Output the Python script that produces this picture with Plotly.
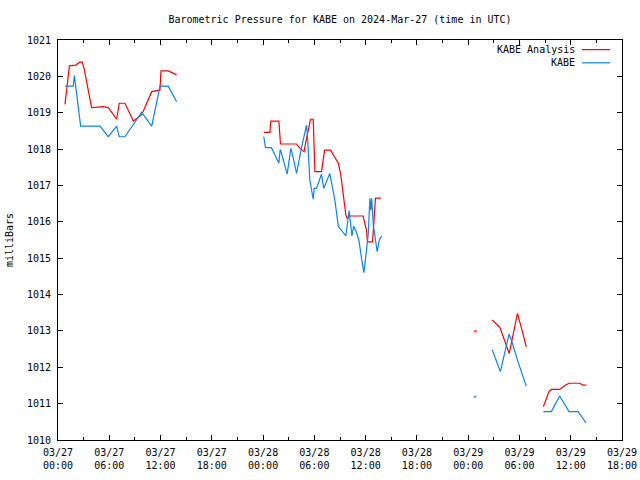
import plotly.graph_objects as go

# KABE Analysis (red)
ana_time = [
    "2024-03-27 00:49", "2024-03-27 01:20", "2024-03-27 02:04", "2024-03-27 02:34", "2024-03-27 02:51",
    "2024-03-27 03:05", "2024-03-27 03:56", "2024-03-27 05:18", "2024-03-27 05:53", "2024-03-27 06:52",
    "2024-03-27 07:10", "2024-03-27 07:50", "2024-03-27 08:49", "2024-03-27 09:47", "2024-03-27 10:58",
    "2024-03-27 11:56", "2024-03-27 12:03", "2024-03-27 12:54", "2024-03-27 13:53", "2024-03-27 18:00",
    "2024-03-28 00:05", "2024-03-28 00:48", "2024-03-28 00:54", "2024-03-28 01:51", "2024-03-28 02:02",
    "2024-03-28 03:54", "2024-03-28 04:18", "2024-03-28 04:48", "2024-03-28 04:58", "2024-03-28 05:24",
    "2024-03-28 05:33", "2024-03-28 05:52", "2024-03-28 06:04", "2024-03-28 06:50", "2024-03-28 07:06",
    "2024-03-28 07:12", "2024-03-28 07:54", "2024-03-28 08:24", "2024-03-28 08:48", "2024-03-28 09:04",
    "2024-03-28 09:18", "2024-03-28 09:27", "2024-03-28 09:41", "2024-03-28 09:50", "2024-03-28 10:04",
    "2024-03-28 11:42", "2024-03-28 12:06", "2024-03-28 12:13", "2024-03-28 12:48", "2024-03-28 12:59",
    "2024-03-28 13:09", "2024-03-28 13:47", "2024-03-28 18:00",
    "2024-03-29 00:51", "2024-03-29 01:30",
    "2024-03-29 02:48", "2024-03-29 03:42", "2024-03-29 03:58", "2024-03-29 04:33", "2024-03-29 04:48",
    "2024-03-29 05:22", "2024-03-29 05:46", "2024-03-29 06:18", "2024-03-29 06:48", "2024-03-29 07:30",
    "2024-03-29 08:48", "2024-03-29 09:28", "2024-03-29 09:44", "2024-03-29 10:42", "2024-03-29 11:24",
    "2024-03-29 11:48", "2024-03-29 13:03", "2024-03-29 13:26", "2024-03-29 13:48",
]
ana_pres = [
    1019.23, 1020.29, 1020.31, 1020.39, 1020.39,
    1020.18, 1019.14, 1019.17, 1019.14, 1018.82,
    1019.26, 1019.26, 1018.77, 1018.94, 1019.58,
    1019.62, 1020.15, 1020.15, 1020.04, None,
    1018.46, 1018.46, 1018.77, 1018.77, 1018.14,
    1018.14, 1018.02, 1017.93, 1018.16, 1018.66,
    1018.82, 1018.82, 1017.38, 1017.38, 1017.84,
    1017.97, 1017.97, 1017.79, 1017.61, 1017.33,
    1016.87, 1016.51, 1016.19, 1016.10, 1016.16,
    1016.16, 1015.77, 1015.45, 1015.45, 1016.05,
    1016.65, 1016.65, None,
    1012.99, None,
    1013.30, 1013.10, 1012.93, 1012.52, 1012.38,
    1013.02, 1013.48, 1013.02, 1012.56, None,
    1010.92, 1011.33, 1011.39, 1011.39, 1011.51,
    1011.56, 1011.56, 1011.51, 1011.51,
]

# KABE observations (blue)
obs_time = [
    "2024-03-27 00:49", "2024-03-27 01:47", "2024-03-27 01:55", "2024-03-27 02:18", "2024-03-27 02:39",
    "2024-03-27 04:55", "2024-03-27 05:53", "2024-03-27 06:52", "2024-03-27 07:10", "2024-03-27 07:50",
    "2024-03-27 09:47", "2024-03-27 10:58", "2024-03-27 11:56", "2024-03-27 12:54", "2024-03-27 13:53",
    "2024-03-27 18:00",
    "2024-03-28 00:05", "2024-03-28 00:17", "2024-03-28 00:59", "2024-03-28 01:51", "2024-03-28 02:00",
    "2024-03-28 02:06", "2024-03-28 02:49", "2024-03-28 03:15", "2024-03-28 03:27", "2024-03-28 03:55",
    "2024-03-28 04:30", "2024-03-28 05:05", "2024-03-28 05:12", "2024-03-28 05:28", "2024-03-28 05:52",
    "2024-03-28 05:59", "2024-03-28 06:15", "2024-03-28 06:50", "2024-03-28 07:06", "2024-03-28 07:48",
    "2024-03-28 08:24", "2024-03-28 08:48", "2024-03-28 09:41", "2024-03-28 09:50", "2024-03-28 10:04",
    "2024-03-28 10:24", "2024-03-28 10:36", "2024-03-28 10:51", "2024-03-28 11:12", "2024-03-28 11:42",
    "2024-03-28 11:48", "2024-03-28 12:18", "2024-03-28 12:30", "2024-03-28 12:36", "2024-03-28 12:42",
    "2024-03-28 12:54", "2024-03-28 13:21", "2024-03-28 13:36", "2024-03-28 13:52", "2024-03-28 18:00",
    "2024-03-29 00:48", "2024-03-29 01:30",
    "2024-03-29 02:48", "2024-03-29 03:46", "2024-03-29 04:47", "2024-03-29 05:00", "2024-03-29 05:50",
    "2024-03-29 06:48", "2024-03-29 07:30",
    "2024-03-29 08:48", "2024-03-29 09:44", "2024-03-29 10:42", "2024-03-29 11:48", "2024-03-29 12:52",
    "2024-03-29 13:48",
]
obs_pres = [
    1019.73, 1019.73, 1020.02, 1019.30, 1018.63,
    1018.63, 1018.34, 1018.63, 1018.34, 1018.34,
    1019.01, 1018.63, 1019.73, 1019.73, 1019.30,
    None,
    1018.34, 1018.04, 1018.04, 1017.61, 1017.99,
    1017.93, 1017.31, 1018.02, 1017.84, 1017.33,
    1018.05, 1018.66, 1018.34, 1017.15, 1016.62,
    1016.92, 1016.92, 1017.31, 1016.92, 1017.33,
    1016.60, 1015.88, 1015.61, 1015.96, 1016.31,
    1015.61, 1015.88, 1015.76, 1015.50, 1014.72,
    1014.60, 1015.64, 1016.65, 1016.32, 1016.65,
    1015.91, 1015.18, 1015.50, 1015.61, None,
    1011.19, None,
    1012.49, 1011.88, 1012.91, 1012.79, 1012.15,
    1011.48, None,
    1010.78, 1010.78, 1011.21, 1010.78, 1010.78,
    1010.47,
]

y_ticks = [1010, 1011, 1012, 1013, 1014, 1015, 1016, 1017, 1018, 1019, 1020, 1021]

FONT = "DejaVu Sans Mono"
RED = "#ff0000"
BLUE = "#0a84f0"


def isolated_sizes(vals):
    sizes = []
    for i, v in enumerate(vals):
        prev_none = i == 0 or vals[i - 1] is None
        next_none = i == len(vals) - 1 or vals[i + 1] is None
        sizes.append(2.5 if (v is not None and prev_none and next_none) else 0)
    return sizes


fig = go.Figure()
fig.add_trace(go.Scatter(
    x=ana_time, y=ana_pres, name="KABE Analysis", mode="lines+markers",
    line=dict(color=RED, width=1.2), connectgaps=False,
    marker=dict(size=isolated_sizes(ana_pres), color=RED, symbol="square", line=dict(width=0)),
    showlegend=False,
))
fig.add_trace(go.Scatter(
    x=obs_time, y=obs_pres, name="KABE", mode="lines+markers",
    line=dict(color=BLUE, width=1.2), connectgaps=False,
    marker=dict(size=isolated_sizes(obs_pres), color=BLUE, symbol="square", line=dict(width=0)),
    showlegend=False,
))

# manual gnuplot-style legend (text then sample line)
legend_items = [("KABE Analysis", RED, 0.976), ("KABE", BLUE, 0.943)]
for label, color, ypos in legend_items:
    fig.add_annotation(x=0.92, y=ypos, xref="paper", yref="paper", text=label,
                       showarrow=False, xanchor="right", yanchor="middle",
                       font=dict(family=FONT, size=10, color="black"))
    fig.add_shape(type="line", xref="paper", yref="paper", x0=0.929, x1=0.979,
                  y0=ypos, y1=ypos, line=dict(color=color, width=1.2))

fig.update_layout(
    width=640, height=480,
    paper_bgcolor="white", plot_bgcolor="white",
    margin=dict(l=58, r=18, t=40, b=40, autoexpand=False),
    font=dict(family=FONT, size=10, color="black"),
    title=dict(text="Barometric Pressure for KABE on 2024-Mar-27 (time in UTC)",
               x=0.5, xref="paper", xanchor="center", y=0.96, yanchor="middle",
               font=dict(family=FONT, size=10, color="black")),
)
fig.update_xaxes(
    type="date", range=["2024-03-27 00:00", "2024-03-29 18:00"], automargin=False,
    dtick=6 * 3600 * 1000, tick0="2024-03-27 00:00", tickformat="%m/%d<br>%H:%M",
    ticks="inside", ticklen=5, tickcolor="black", mirror="allticks",
    showline=True, linecolor="black", linewidth=1, showgrid=False, zeroline=False,
    minor=dict(dtick=3 * 3600 * 1000, ticks="inside", ticklen=3, tickcolor="black", showgrid=False),
    tickfont=dict(family=FONT, size=10), ticklabelstandoff=3,
)
fig.update_yaxes(
    range=[1010, 1021], tickvals=y_ticks, ticktext=[str(v) for v in y_ticks], automargin=False,
    ticks="inside", ticklen=5, tickcolor="black", mirror="allticks",
    showline=True, linecolor="black", linewidth=1, showgrid=False, zeroline=False,
    title=dict(text="milliBars", font=dict(family=FONT, size=10), standoff=11),
    tickfont=dict(family=FONT, size=10), ticklabelstandoff=4,
)

fig.write_html("out.html")
